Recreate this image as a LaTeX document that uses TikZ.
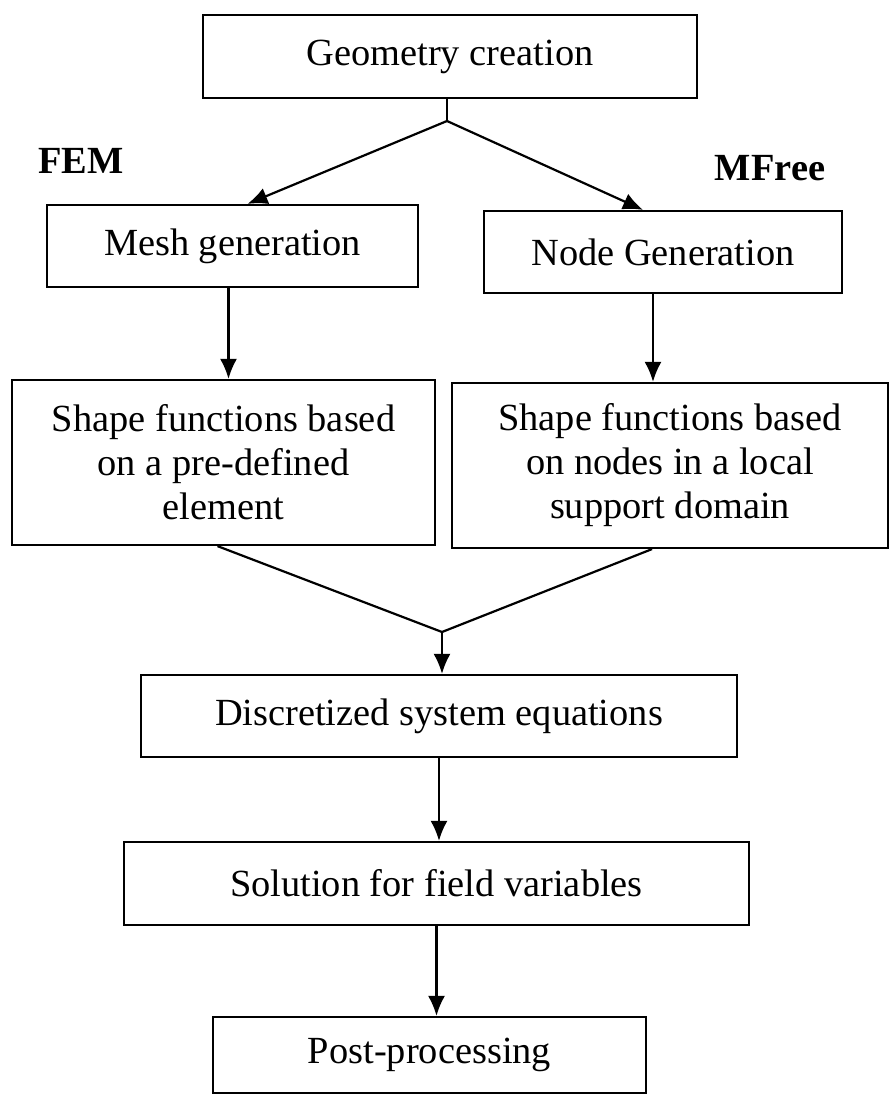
\documentclass[tikz,border=0pt]{standalone}
\usepackage{fontspec}
\setmainfont{Liberation Serif}
\usetikzlibrary{arrows.meta,positioning}
\tikzset{>={Latex[length=20pt,width=17pt]}}

\begin{document}
\begin{tikzpicture}[x=1pt,y=-1pt,line width=2.2pt,
   box/.style={draw,align=center,inner sep=0pt,font=\fontsize{38.4}{44}\selectfont},
   lbl/.style={font=\fontsize{38.4}{44}\selectfont\bfseries},
]
\useasboundingbox (0,0) rectangle (890,1095);
\node[box,minimum width=494pt,minimum height=83pt] (geo) at (450,56.5) {Geometry creation};
\node[lbl] (fem) at (81,161) {FEM};
\node[lbl] (mfree) at (770,168) {MFree};
\node[box,minimum width=371pt,minimum height=82pt] (mesh) at (232.5,246) {Mesh generation};
\node[box,minimum width=358pt,minimum height=82pt] (ngen) at (663,252) {Node Generation};
\node[box,minimum width=423pt,minimum height=165pt] (sfem) at (223.5,462.5)
   {Shape functions based\\on a pre-defined\\element};
\node[box,minimum width=436pt,minimum height=165pt] (smf) at (670,465.5)
   {Shape functions based\\on nodes in a local\\support domain};
\node[box,minimum width=596pt,minimum height=82pt] (disc) at (439,716) {Discretized system equations};
\node[box,minimum width=625pt,minimum height=83pt] (sol) at (436.5,883.5) {Solution for field variables};
\node[box,minimum width=433pt,minimum height=76pt] (post) at (429.5,1055) {Post-processing};

% split to the two methods
\coordinate (split) at (447,121);
\draw (geo.south -| split) -- (split);
\draw[->] (split) -- ([xshift=15pt]mesh.north);
\draw[->] (split) -- ([xshift=-20pt]ngen.north);
\draw[->] ([xshift=-4pt]mesh.south) -- ([xshift=-4pt]mesh.south |- sfem.north);
\draw[->] ([xshift=-10pt]ngen.south) -- ([xshift=-10pt]ngen.south |- smf.north);

% merge back
\coordinate (merge) at (442,632);
\draw ([xshift=-6pt]sfem.south) -- (merge) -- ([xshift=-18pt]smf.south);
\draw[->] (merge) -- (merge |- disc.north);
\draw[->] (disc.south) -- (disc.south |- sol.north);
\draw[->] (sol.south) -- (sol.south |- post.north);
\end{tikzpicture}
\end{document}
